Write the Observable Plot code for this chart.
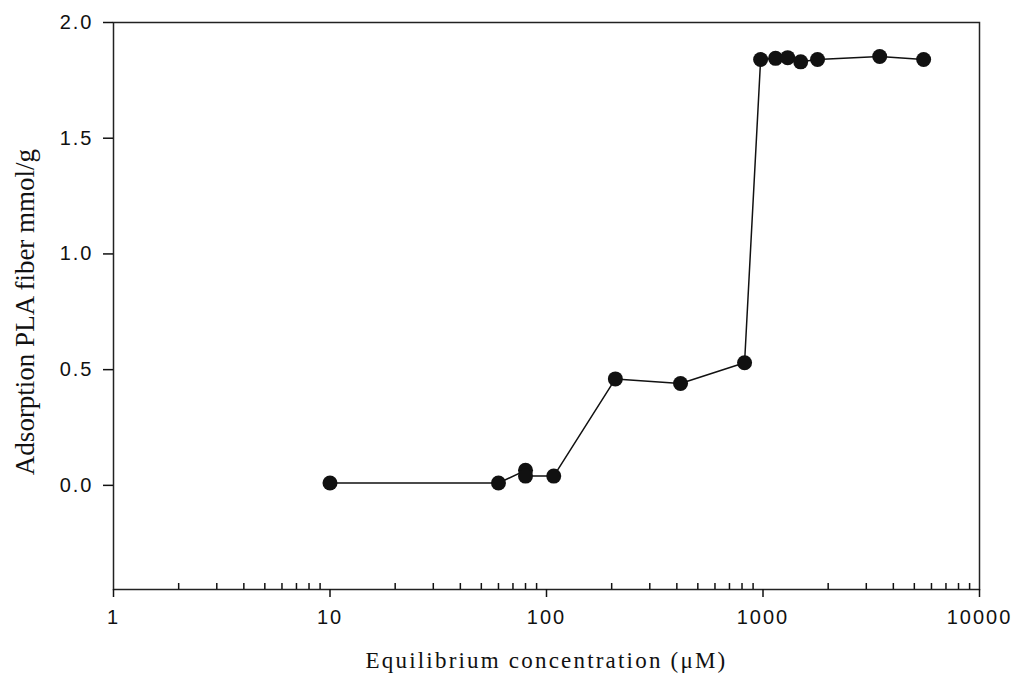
<!DOCTYPE html>
<html>
<head>
<meta charset="utf-8">
<script src="https://cdn.jsdelivr.net/npm/d3@7"></script>
<script src="https://cdn.jsdelivr.net/npm/@observablehq/plot@0.6"></script>
<style>
  html, body { margin: 0; padding: 0; background: #fff; }
  g[aria-label="x-axis tick label"] text,
  g[aria-label="y-axis tick label"] text { letter-spacing: 2px; }
</style>
</head>
<body>
<div id="chart"></div>
<script>
// Equilibrium concentration (µM) and adsorbed amount (mmol/g) on PLA fiber
const concentration = [10, 60, 80, 80, 108, 208, 416, 822, 975, 1143, 1300, 1493, 1786, 3460, 5520];
const adsorption    = [0.01, 0.01, 0.065, 0.04, 0.04, 0.46, 0.44, 0.53, 1.84, 1.845, 1.848, 1.83, 1.84, 1.853, 1.84];

const xMajorTicks = [1, 10, 100, 1000, 10000];
const yTicks = [0, 0.5, 1.0, 1.5, 2.0];
const xTitle = "Equilibrium concentration (\u03bcM)";
const yTitle = "Adsorption PLA fiber mmol/g";

const data = concentration.map((c, i) => ({c, a: adsorption[i]}));

// minor ticks for each decade (2..9 × 10^k)
const xMinorTicks = [];
for (let k = 0; k < 4; k++) for (let m = 2; m <= 9; m++) xMinorTicks.push(m * 10 ** k);

const sans = "Liberation Sans, Arial, sans-serif";
const serif = "Liberation Serif, Times New Roman, serif";

const chart = Plot.plot({
  width: 1013,
  height: 681,
  marginLeft: 113,
  marginRight: 34,
  marginTop: 22,
  marginBottom: 92,
  style: {background: "#fff", color: "#111"},
  x: {type: "log", domain: [1, 10000]},
  y: {domain: [-0.45, 2.0]},
  marks: [
    Plot.frame({stroke: "#222", strokeWidth: 1.5}),
    Plot.axisX(xMajorTicks, {
      anchor: "bottom", tickSize: 8, tickPadding: 12, tickFormat: d => String(d),
      fontSize: 20, fontFamily: sans, label: null, strokeWidth: 1.5
    }),
    Plot.axisX(xMinorTicks, {
      anchor: "bottom", tickSize: -6, text: null, label: null, strokeWidth: 1.5
    }),
    Plot.axisY(yTicks, {
      anchor: "left", tickSize: 10, tickPadding: 10, tickFormat: d3.format(".1f"),
      fontSize: 20, fontFamily: sans, label: null, strokeWidth: 1.5
    }),
    Plot.line(data, {x: "c", y: "a", stroke: "#111", strokeWidth: 1.5}),
    Plot.dot(data, {x: "c", y: "a", r: 7.5, fill: "#111", stroke: "none"}),
    Plot.text([xTitle], {
      frameAnchor: "bottom", dy: 78, fontSize: 23, fontFamily: serif, fill: "#111"
    }),
    Plot.text([yTitle], {
      frameAnchor: "left", textAnchor: "middle", dx: -88, dy: 6, rotate: -90,
      fontSize: 27, fontFamily: serif, fill: "#111"
    })
  ]
});

// widen the x-axis title's letter spacing
d3.select(chart).selectAll("text")
  .filter(function() { return this.textContent === xTitle; })
  .style("letter-spacing", "2.2px");

document.getElementById("chart").appendChild(chart);
</script>
</body>
</html>
